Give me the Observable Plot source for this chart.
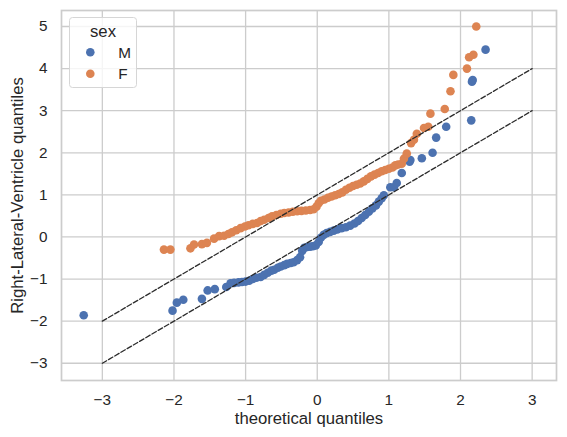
<!DOCTYPE html>
<html><head><meta charset="utf-8">
<script src="https://cdn.jsdelivr.net/npm/d3@7"></script>
<script src="https://cdn.jsdelivr.net/npm/@observablehq/plot@0.6"></script>
<style>
body{margin:0;background:#fff;}
#wrap{position:relative;width:567px;height:437px;font-family:"Liberation Sans",Arial,sans-serif;}
#wrap svg.plot{font-family:"Liberation Sans",Arial,sans-serif;}
#wrap svg.plot g[aria-label="x-axis tick label"] text,
#wrap svg.plot g[aria-label="y-axis tick label"] text{font-size:15.3px;fill:#262626;}
#wrap svg.plot g[aria-label="x-axis label"] text,
#wrap svg.plot g[aria-label="y-axis label"] text{font-size:16.7px;fill:#262626;}
#legend{position:absolute;left:69px;top:17px;}
</style></head><body><div id="wrap"></div><script>
const xTicks = [-3, -2, -1, 0, 1, 2, 3];
const yTicks = [-3, -2, -1, 0, 1, 2, 3, 4, 5];
const seriesNames = ["M", "F"];
const seriesColors = ["#4C72B0", "#DD8452"];

const mX = [-3.26, -2.02, -1.96, -1.87, -1.61, -1.53, -1.43, -1.27, -1.21, -1.16, -1.10, -1.05, -1.00, -0.95, -0.90, -0.85, -0.79, -0.74, -0.69, -0.64, -0.60, -0.55, -0.51, -0.46, -0.42, -0.37, -0.33, -0.28, -0.24, -0.21, -0.18, -0.14, -0.10, -0.06, -0.02, 0.02, 0.05, 0.09, 0.13, 0.18, 0.23, 0.28, 0.34, 0.40, 0.46, 0.52, 0.57, 0.62, 0.67, 0.72, 0.77, 0.82, 0.86, 0.90, 0.93, 1.02, 1.07, 1.11, 1.18, 1.29, 1.30, 1.46, 1.61, 1.66, 1.80, 2.15, 2.16, 2.17, 2.35];
const mY = [-1.86, -1.75, -1.56, -1.49, -1.47, -1.27, -1.24, -1.19, -1.10, -1.09, -1.08, -1.07, -1.06, -1.04, -1.00, -0.97, -0.95, -0.90, -0.85, -0.80, -0.78, -0.73, -0.70, -0.67, -0.64, -0.62, -0.60, -0.55, -0.48, -0.33, -0.26, -0.24, -0.23, -0.22, -0.20, -0.12, -0.02, 0.05, 0.09, 0.12, 0.15, 0.18, 0.21, 0.23, 0.27, 0.32, 0.38, 0.45, 0.52, 0.60, 0.68, 0.75, 0.84, 0.92, 0.99, 1.18, 1.18, 1.28, 1.52, 1.79, 1.83, 1.87, 2.00, 2.36, 2.62, 2.77, 3.69, 3.73, 4.45];

const fX = [-2.14, -2.05, -1.77, -1.72, -1.61, -1.54, -1.44, -1.37, -1.30, -1.24, -1.19, -1.13, -1.07, -1.01, -0.96, -0.90, -0.84, -0.79, -0.74, -0.68, -0.63, -0.57, -0.51, -0.46, -0.40, -0.34, -0.28, -0.22, -0.16, -0.10, -0.05, -0.01, 0.02, 0.05, 0.10, 0.15, 0.20, 0.25, 0.30, 0.35, 0.40, 0.45, 0.50, 0.55, 0.60, 0.65, 0.70, 0.75, 0.80, 0.85, 0.90, 0.95, 1.00, 1.05, 1.09, 1.13, 1.18, 1.21, 1.25, 1.31, 1.35, 1.39, 1.49, 1.55, 1.58, 1.78, 1.86, 1.90, 2.09, 2.12, 2.18, 2.22];
const fY = [-0.30, -0.30, -0.27, -0.18, -0.17, -0.14, -0.04, 0.02, 0.03, 0.07, 0.11, 0.16, 0.21, 0.25, 0.28, 0.31, 0.33, 0.38, 0.41, 0.45, 0.49, 0.52, 0.55, 0.57, 0.58, 0.60, 0.61, 0.62, 0.63, 0.64, 0.66, 0.72, 0.80, 0.86, 0.89, 0.93, 0.96, 0.99, 1.02, 1.06, 1.12, 1.17, 1.21, 1.24, 1.27, 1.32, 1.38, 1.44, 1.48, 1.52, 1.56, 1.59, 1.62, 1.65, 1.70, 1.72, 1.74, 1.86, 1.98, 2.23, 2.31, 2.45, 2.59, 2.62, 2.93, 3.04, 3.46, 3.85, 4.00, 4.27, 4.33, 5.00];

// reference lines (endpoints)
const refX = [-3, 3];
const refUpperY = [-2, 4];
const refLowerY = [-3, 3];

const points = [
  ...mX.map((x, i) => ({sex: "M", x, y: mY[i]})),
  ...fX.map((x, i) => ({sex: "F", x, y: fY[i]}))
];
const refLines = [
  ...refX.map((x, i) => ({line: "upper", x, y: refUpperY[i]})),
  ...refX.map((x, i) => ({line: "lower", x, y: refLowerY[i]}))
];

const fmt = d => d < 0 ? "\u2212" + Math.abs(d) : String(d);

const chart = Plot.plot({
  width: 567,
  height: 437,
  marginLeft: 61,
  marginRight: 11,
  marginTop: 10,
  marginBottom: 57,
  style: {fontFamily: "'Liberation Sans', Arial, sans-serif", fontSize: "15.3px", color: "#262626", background: "#fff"},
  x: {domain: [-3.57, 3.34]},
  y: {domain: [-3.41, 5.38]},
  color: {domain: seriesNames, range: seriesColors},
  marks: [
    Plot.gridX(xTicks, {stroke: "#cccccc", strokeOpacity: 1, strokeWidth: 1.3}),
    Plot.gridY(yTicks, {stroke: "#cccccc", strokeOpacity: 1, strokeWidth: 1.3}),
    Plot.frame({stroke: "#cccccc", strokeWidth: 1.7}),
    Plot.axisX(xTicks, {tickSize: 0, tickPadding: 14, tickFormat: fmt, fontSize: 15.3, label: "theoretical quantiles", labelAnchor: "center", labelOffset: 43, labelArrow: "none"}),
    Plot.axisY(yTicks, {tickSize: 0, tickPadding: 14, tickFormat: fmt, fontSize: 15.3, label: "Right-Lateral-Ventricle quantiles", labelAnchor: "center", labelOffset: 50, labelArrow: "none"}),
    Plot.dot(points, {x: "x", y: "y", fill: "sex", r: 4.3, stroke: null}),
    Plot.line(refLines, {x: "x", y: "y", z: "line", stroke: "#2b2b2b", strokeWidth: 1.3, strokeDasharray: "5,2.2"})
  ]
});
chart.classList.add("plot");
document.getElementById("wrap").appendChild(chart);

// legend
const ns = "http://www.w3.org/2000/svg";
const lg = document.createElementNS(ns, "svg");
lg.setAttribute("id", "legend");
lg.setAttribute("width", 69);
lg.setAttribute("height", 72);
lg.style.fontFamily = "'Liberation Sans', Arial, sans-serif";
const box = document.createElementNS(ns, "rect");
Object.entries({x: 0.5, y: 0.5, width: 67, height: 70, rx: 3, fill: "#ffffff", "fill-opacity": 0.8, stroke: "#d6d6d6", "stroke-width": 1}).forEach(([k, v]) => box.setAttribute(k, v));
lg.appendChild(box);
const title = document.createElementNS(ns, "text");
Object.entries({x: 34, y: 19.5, "text-anchor": "middle", "font-size": "16.7px", fill: "#262626"}).forEach(([k, v]) => title.setAttribute(k, v));
title.textContent = "sex";
lg.appendChild(title);
seriesNames.forEach((name, i) => {
  const cy = 35.3 + i * 21.4;
  const c = document.createElementNS(ns, "circle");
  Object.entries({cx: 21.3, cy, r: 4.3, fill: seriesColors[i]}).forEach(([k, v]) => c.setAttribute(k, v));
  lg.appendChild(c);
  const t = document.createElementNS(ns, "text");
  Object.entries({x: 49.3, y: cy + 5.3, "font-size": "15.3px", fill: "#262626"}).forEach(([k, v]) => t.setAttribute(k, v));
  t.textContent = name;
  lg.appendChild(t);
});
document.getElementById("wrap").appendChild(lg);
</script></body></html>
